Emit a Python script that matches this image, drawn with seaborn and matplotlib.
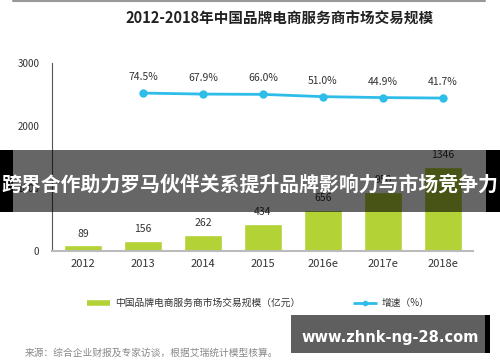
import pandas as pd
import seaborn as sns
import matplotlib.pyplot as plt
from matplotlib.lines import Line2D
from matplotlib.patches import Rectangle

sns.set_theme(style="white")
plt.rcParams['font.family'] = ['Noto Sans CJK SC', 'DejaVu Sans']

# data
years = ["2012", "2013", "2014", "2015", "2016e", "2017e", "2018e"]
scale = [89, 156, 262, 434, 656, 950, 1346]          # 亿元
growth_years = ["2013", "2014", "2015", "2016e", "2017e", "2018e"]
growth = [74.5, 67.9, 66.0, 51.0, 44.9, 41.7]        # %

green = "#b3d235"
cyan = "#2dbde8"
txt = "#333333"

df = pd.DataFrame({"year": years, "scale": scale})
gdf = pd.DataFrame({"year": growth_years, "growth": growth})
gdf["pos"] = [years.index(y) for y in growth_years]

fig = plt.figure(figsize=(5, 3.62), dpi=100)
ax = fig.add_axes([0.104, 0.3066, 0.842, 0.519])

sns.barplot(data=df, x="year", y="scale", order=years, color=green,
            width=0.63, saturation=1, ax=ax)
ax.set_xlim(-0.517, 6.5)
ax.set_ylim(0, 3000)
ax.set_yticks([0, 1000, 2000, 3000])
ax.set_xlabel("")
ax.set_ylabel("")
ax.tick_params(axis="y", length=0, pad=9, labelsize=7, labelcolor=txt)
ax.tick_params(axis="x", length=0, pad=6, labelsize=8, labelcolor=txt)
for s in ["top", "right"]:
    ax.spines[s].set_visible(False)
ax.spines["left"].set_color("#555555")
ax.spines["left"].set_linewidth(0.8)
ax.spines["bottom"].set_color("#bbbbbb")
ax.spines["bottom"].set_linewidth(1.5)

for i, v in enumerate(scale):
    ax.annotate(str(v), (i, v), xytext=(0, 8.5), textcoords="offset points",
                ha="center", va="center", fontsize=7.5, color=txt)

ax2 = ax.twinx()
sns.lineplot(data=gdf, x="pos", y="growth", color=cyan, linewidth=2,
             marker="o", markersize=6, markeredgewidth=0, ax=ax2)
ax2.set_ylim(-962, 271)
ax2.set_axis_off()
for p, g in zip(gdf["pos"], gdf["growth"]):
    ax2.annotate(f"{g:.1f}%", (p, g), xytext=(0, 11.5), textcoords="offset points",
                 ha="center", va="center", fontsize=7.5, color=txt)

# title and top rule
fig.add_artist(Line2D([0.026, 0.97], [0.996, 0.996], color="#999999", linewidth=1.5))
fig.text(0.56, 0.9475, "2012-2018年中国品牌电商服务商市场交易规模",
         ha="center", va="center", fontsize=10.5, fontweight="bold", color="#222222")

# legend
handles = [Line2D([], [], color=green, linewidth=4, solid_capstyle="butt"),
           Line2D([], [], color=cyan, linewidth=2, marker="o", markersize=3,
                  solid_capstyle="butt")]
fig.legend(handles, ["中国品牌电商服务商市场交易规模（亿元）", "增速（%）"],
           loc="center", bbox_to_anchor=(0.516, 0.163), ncol=2, frameon=False,
           fontsize=7, handlelength=2.4, handletextpad=0.5, columnspacing=5.5,
           labelcolor=txt)

fig.text(0.05, 0.025, "来源：综合企业财报及专家访谈，根据艾瑞统计模型核算。",
         ha="left", va="center", fontsize=7, color="#888888")

# overlay banner
fig.add_artist(Rectangle((0.026, 0.4144), 0.946, 0.1713, transform=fig.transFigure,
                         facecolor="black", alpha=0.6, edgecolor="none", zorder=10))
fig.add_artist(Rectangle((0, 0.4144), 0.026, 0.1713, transform=fig.transFigure,
                         facecolor="black", edgecolor="none", zorder=10))
fig.add_artist(Rectangle((0.972, 0.4144), 0.028, 0.1713, transform=fig.transFigure,
                         facecolor="black", edgecolor="none", zorder=10))
fig.text(0.5, 0.4917, "跨界合作助力罗马伙伴关系提升品牌影响力与市场竞争力",
         ha="center", va="center", fontsize=14.3, fontweight="bold", color="white",
         zorder=11)

# watermark box
fig.add_artist(Rectangle((0.582, 0.0249), 0.388, 0.105, transform=fig.transFigure,
                         facecolor="#5f5f5f", edgecolor="none", zorder=10))
fig.add_artist(Rectangle((0.97, 0.0249), 0.01, 0.105, transform=fig.transFigure,
                         facecolor="black", edgecolor="none", zorder=10))
fig.text(0.78, 0.069, "www.zhnk-ng-28.com", ha="center", va="center",
         fontsize=10.5, fontweight="bold", color="white", family="DejaVu Sans",
         zorder=11)

fig.savefig("out.png", dpi=100)
